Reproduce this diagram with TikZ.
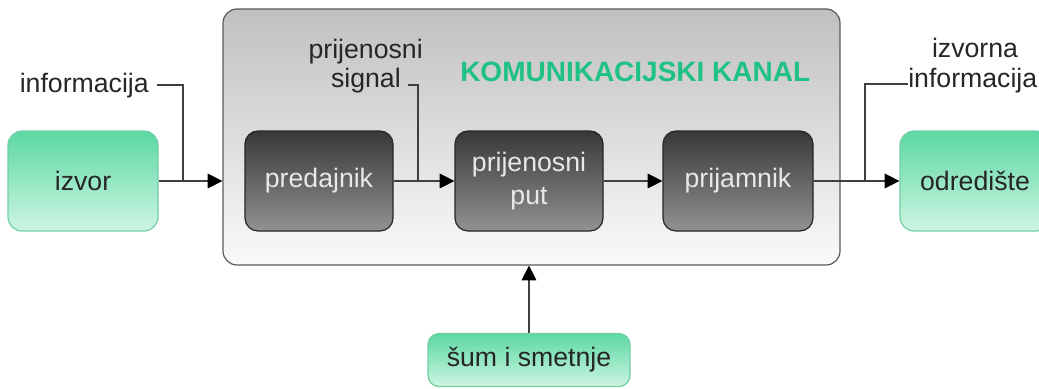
\documentclass[tikz,border=0pt]{standalone}
\usepackage{fontspec}
\setmainfont{Liberation Sans}
\usetikzlibrary{arrows.meta}

\definecolor{chantop}{HTML}{C0C0C0}
\definecolor{chanbot}{HTML}{FAFAFA}
\definecolor{chanline}{HTML}{5A5A5A}
\definecolor{darktop}{HTML}{383838}
\definecolor{darkbot}{HTML}{929292}
\definecolor{darktext}{HTML}{E8E8E8}
\definecolor{greentop}{HTML}{5CD8A4}
\definecolor{greenbot}{HTML}{CDF5E2}
\definecolor{greenline}{HTML}{74CFA4}
\definecolor{titlegreen}{HTML}{1FC184}
\definecolor{wire}{HTML}{404040}

\newlength\pxu
\setlength\pxu{0.75pt}

\begin{document}
\begin{tikzpicture}[x=0.75pt, y=-0.75pt,
  font=\fontsize{20}{24}\selectfont,
  chanbox/.style={draw=chanline, line width=1.2\pxu, rounded corners=14\pxu,
    top color=chantop, bottom color=chanbot,
    minimum width=617\pxu, minimum height=256\pxu, inner sep=0pt},
  darkbox/.style={draw=black!85, line width=1.2\pxu, rounded corners=13\pxu,
    top color=darktop, bottom color=darkbot, text=darktext,
    minimum width=148\pxu, minimum height=100\pxu, inner sep=0pt,
    align=center},
  greenbox/.style={draw=greenline, line width=1.2\pxu, rounded corners=14\pxu,
    top color=greentop, bottom color=greenbot, text=black!85,
    minimum width=150\pxu, minimum height=100\pxu, inner sep=0pt},
  wireline/.style={draw=wire, line width=1.2\pxu},
  arr/.style={wireline, -{Triangle[length=11pt, width=11pt, color=black]}},
  lbl/.style={text=black!85, inner sep=0pt},
]
\useasboundingbox (0,0) rectangle (1039,389);
\clip (0,0) rectangle (1039,389);

% channel frame and its title
\node[chanbox] (chan) at (531.5,137) {};
\node[anchor=base west, text=titlegreen, inner sep=0pt,
      font=\fontsize{21}{24}\selectfont\bfseries] (title) at (460,81)
      {KOMUNIKACIJSKI KANAL};

% blocks
\node[greenbox] (izvor) at (83,181) {izvor};
\node[darkbox]  (pred)  at (319,181) {predajnik};
\node[darkbox]  (put)   at (529,181) {prijenosni\\[1pt]put};
\node[darkbox, minimum width=150\pxu] (prij) at (738,181) {prijamnik};
\node[greenbox] (odred) at (975,181) {odredište};
\node[greenbox, minimum width=202\pxu, minimum height=53\pxu,
      rounded corners=11\pxu] (sum) at (529,360) {šum i smetnje};

% signal path
\draw[arr] (izvor.east) -- (izvor.east -| chan.west);
\draw[arr] (pred.east) -- (put.west);
\draw[arr] (put.east) -- (prij.west);
\draw[arr] (prij.east) -- (odred.west);
\draw[arr] (sum.north) -- (sum.north |- chan.south);

% labels with leader lines
\node[lbl, anchor=base east] (linfo) at (149,92) {informacija};
\coordinate (linfoend) at (157,85);
\coordinate (jinfo) at (183,181);
\draw[wireline] (linfoend) -| (jinfo);

\node[lbl, anchor=base east, align=right] (lsig1) at (423,58) {prijenosni};
\node[lbl, anchor=base east] (lsig2) at (401,87) {signal};
\coordinate (lsigend) at (408,85);
\coordinate (jsig) at (418,181);
\draw[wireline] (lsigend) -| (jsig);

\node[lbl, anchor=base] (lout1) at (975,57) {izvorna};
\node[lbl, anchor=base west] (lout2) at (908,87) {informacija};
\coordinate (loutend) at (908,84);
\coordinate (jout) at (865,181);
\draw[wireline] (loutend) -| (jout);
\end{tikzpicture}
\end{document}
